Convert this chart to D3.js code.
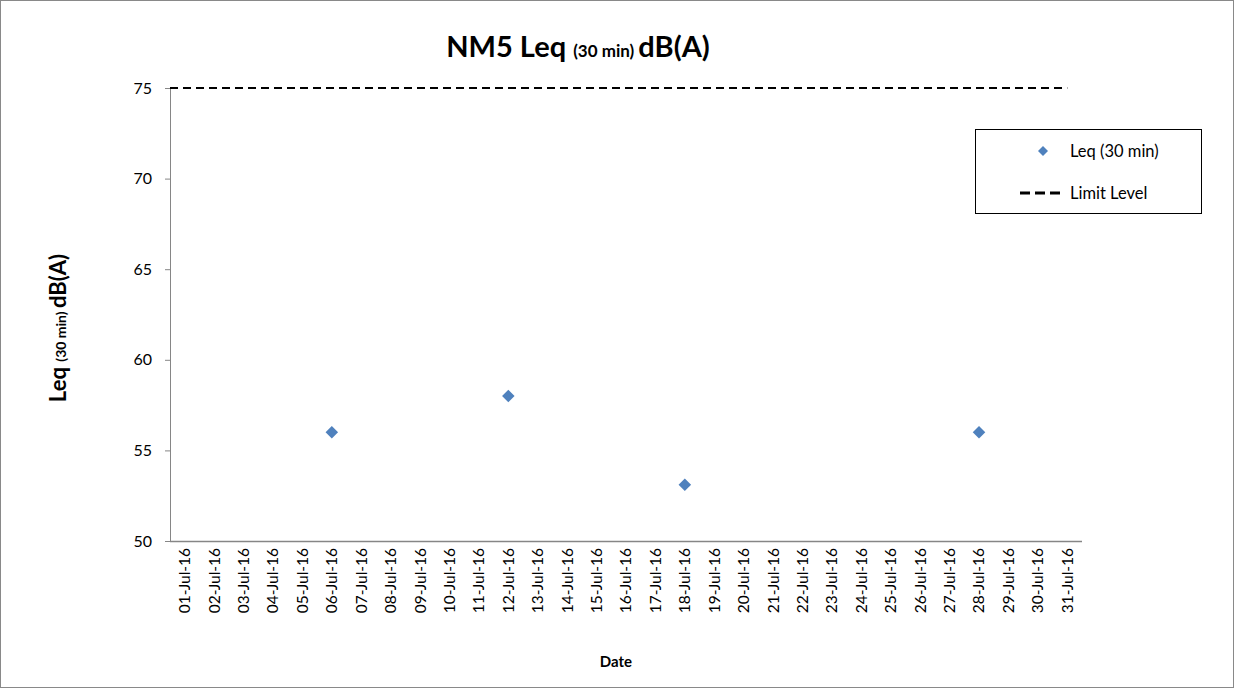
<!DOCTYPE html>
<html><head><meta charset="utf-8">
<script src="https://cdn.jsdelivr.net/npm/d3@7"></script>
<style>body{margin:0;background:#fff}svg{display:block}text{font-family:Lato,"Open Sans",sans-serif}</style>
</head><body>
<script>
const dates = d3.range(1,32).map(d => String(d).padStart(2,"0") + "-Jul-16");
const measuredDates = ["06-Jul-16","12-Jul-16","18-Jul-16","28-Jul-16"];
const leqValues = [56.0, 58.0, 53.1, 56.0];
const limitLevel = 75;
const yTicks = [50,55,60,65,70,75];

const W=1234,H=688;
const svg=d3.select("body").append("svg").attr("width",W).attr("height",H);
svg.append("rect").attr("x",0.5).attr("y",0.5).attr("width",W-1).attr("height",H-1).attr("fill","#fff").attr("stroke","#898989");

const L=170,R=1082,T=88,B=541;
const x=d3.scaleBand().domain(dates).range([L,R]);
const y=d3.scaleLinear().domain([50,75]).range([B,T]);

const yAxis=svg.append("g").attr("transform",`translate(${L},0)`).call(d3.axisLeft(y).tickValues(yTicks).tickSize(5).tickPadding(13));
yAxis.select(".domain").attr("stroke","#868686");
yAxis.selectAll(".tick line").attr("stroke","#868686");
yAxis.selectAll("text").attr("font-size",16).attr("fill","#000");

const xAxis=svg.append("g").attr("transform",`translate(0,${B})`).call(d3.axisBottom(x).tickSize(0).tickPadding(8));
xAxis.select(".domain").attr("stroke","#868686").attr("stroke-width",1.5).attr("d",`M${L},0.5H${R}`);
xAxis.selectAll("text").attr("font-size",15.5).attr("fill","#000")
  .attr("transform","rotate(-90)").attr("text-anchor","end").attr("dx","-0.45em").attr("dy","0.35em").attr("x",0).attr("y",0);

// limit line
svg.append("line").attr("x1",L).attr("x2",x(dates[dates.length-1])+x.bandwidth()/2)
  .attr("y1",y(limitLevel)).attr("y2",y(limitLevel)).attr("stroke","#000").attr("stroke-width",1.8).attr("stroke-dasharray","8,5");

// points
const sym=d3.symbol().type(d3.symbolDiamond2).size(100);
svg.append("g").selectAll("path").data(measuredDates.map((d,i)=>({d,v:leqValues[i]}))).join("path")
  .attr("d",sym).attr("transform",p=>`translate(${x(p.d)+x.bandwidth()/2},${y(p.v)})`).attr("fill","#4f81bd");

// title
const title=svg.append("text").attr("x",578).attr("y",57).attr("text-anchor","middle").attr("font-weight","bold").attr("font-size",29);
title.append("tspan").text("NM5 Leq ");
title.append("tspan").attr("font-size",17).text("(30 min) ");
title.append("tspan").text("dB(A)");

// y label
const yl=svg.append("text").attr("transform","translate(66,328) rotate(-90)").attr("text-anchor","middle").attr("font-weight","bold").attr("font-size",22);
yl.append("tspan").text("Leq ");
yl.append("tspan").attr("font-size",14).text("(30 min) ");
yl.append("tspan").text("dB(A)");

svg.append("text").attr("x",616).attr("y",667).attr("text-anchor","middle").attr("font-weight","bold").attr("font-size",15).text("Date");

// legend
const lg=svg.append("g");
lg.append("rect").attr("x",975.5).attr("y",129.5).attr("width",226).attr("height",84).attr("fill","#fff").attr("stroke","#000");
lg.append("path").attr("d",d3.symbol().type(d3.symbolDiamond2).size(64)).attr("transform","translate(1043,151)").attr("fill","#4f81bd");
lg.append("text").attr("x",1070).attr("y",157).attr("font-size",16.5).text("Leq (30 min)");
lg.append("line").attr("x1",1020).attr("x2",1062).attr("y1",193).attr("y2",193).attr("stroke","#000").attr("stroke-width",3).attr("stroke-dasharray","10,5");
lg.append("text").attr("x",1070).attr("y",199).attr("font-size",16.5).text("Limit Level");
</script>
</body></html>
